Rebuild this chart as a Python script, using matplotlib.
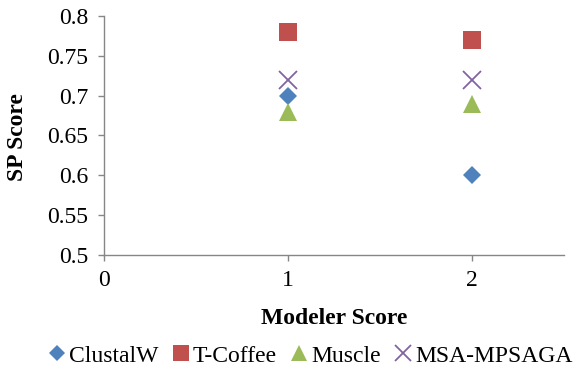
import matplotlib
matplotlib.use("Agg")
import matplotlib.pyplot as plt

SERIF = "Liberation Serif"

modeler_x = [1, 2]
clustalw = [0.70, 0.60]
tcoffee = [0.78, 0.77]
muscle = [0.68, 0.69]
msa_mpsaga = [0.72, 0.72]

x_ticks = [0, 1, 2]
x_tick_labels = ["0", "1", "2"]
y_ticks = [0.5, 0.55, 0.6, 0.65, 0.7, 0.75, 0.8]
y_tick_labels = ["0.5", "0.55", "0.6", "0.65", "0.7", "0.75", "0.8"]

series = [
    ("ClustalW", clustalw, "D", "#4F81BD", 9.3),
    ("T-Coffee", tcoffee, "s", "#C0504D", 13),
    ("Muscle", muscle, "^", "#9BBB59", 13),
    ("MSA-MPSAGA", msa_mpsaga, "x", "#8064A2", 12.5),
]

W, H = 577, 371
fig = plt.figure(figsize=(W / 100, H / 100), dpi=100)
ax = fig.add_axes([104 / W, 1 - 255 / H, 460 / W, 239 / H])

for name, vals, mk, col, ms in series:
    if mk == "x":
        ax.plot(modeler_x, vals, linestyle="none", marker=mk, color=col,
                markersize=ms, markeredgewidth=1.3, label=name)
    else:
        ax.plot(modeler_x, vals, linestyle="none", marker=mk, color=col,
                markersize=ms, markeredgewidth=0, label=name)

ax.set_xlim(0, 2.5)
ax.set_ylim(0.5, 0.8)
ax.set_xticks(x_ticks)
ax.set_xticklabels(x_tick_labels, fontfamily=SERIF, fontsize=17)
ax.set_yticks(y_ticks)
ax.set_yticklabels(y_tick_labels, fontfamily=SERIF, fontsize=17)

for s in ["top", "right"]:
    ax.spines[s].set_visible(False)
for s in ["left", "bottom"]:
    ax.spines[s].set_color("#868686")
    ax.spines[s].set_linewidth(1.0)
ax.tick_params(axis="both", direction="out", length=4.5, width=1.0,
               color="#868686", labelcolor="black")
ax.tick_params(axis="x", pad=6)
ax.tick_params(axis="y", pad=7)

fig.text(18 / W, 1 - 137.5 / H, "SP Score", rotation=90, ha="center",
         va="center", fontsize=17, fontweight="bold", fontfamily=SERIF)
fig.text(334 / W, 1 - 319 / H, "Modeler Score", ha="center", va="center",
         fontsize=17, fontweight="bold", fontfamily=SERIF)

leg = fig.legend(loc="center", bbox_to_anchor=(309 / W, 1 - 356 / H), ncol=4,
                 frameon=False, prop={"family": SERIF, "size": 17},
                 handletextpad=0.0, columnspacing=0.45, handlelength=1.0,
                 markerscale=0.9, borderpad=0, borderaxespad=0)

fig.savefig("out.png", dpi=100)
